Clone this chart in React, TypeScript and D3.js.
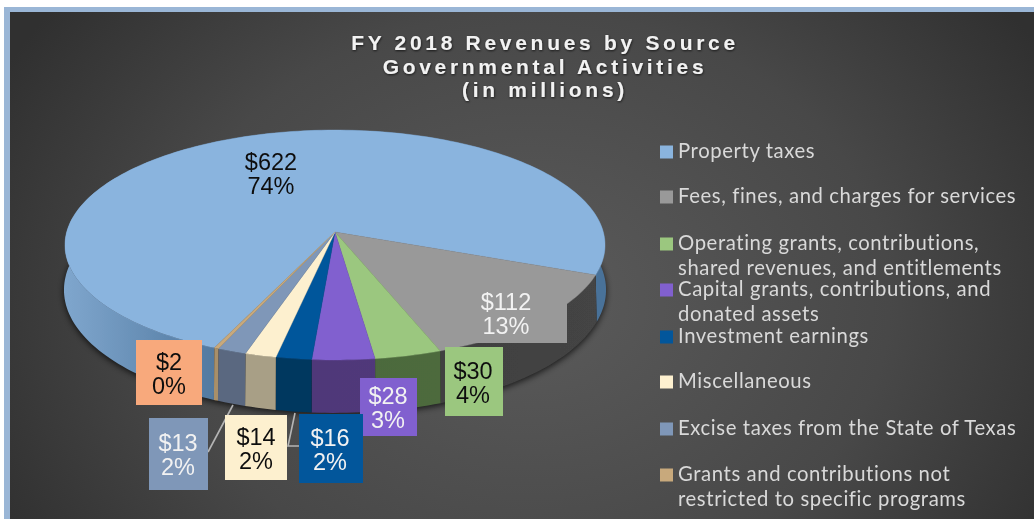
import React, { useEffect, useRef } from "react";
import * as d3 from "d3";

const titleLines = ["FY 2018 Revenues by Source", "Governmental Activities", "(in millions)"];
const legendLines = [
  ["Property taxes"],
  ["Fees, fines, and charges for services"],
  ["Operating grants, contributions,", "shared revenues, and entitlements"],
  ["Capital grants, contributions, and", "donated assets"],
  ["Investment earnings"],
  ["Miscellaneous"],
  ["Excise taxes from the State of Texas"],
  ["Grants and contributions not", "restricted to specific programs"]
];
const values = [622, 112, 30, 28, 16, 14, 13, 2];
const percents = ["74%", "13%", "4%", "3%", "2%", "2%", "2%", "0%"];
const topColors = ["#8ab4de", "#999999", "#9bc77f", "#8160cf", "#02569b", "#fdf0cf", "#7f97b8", "#c8a97c"];
const wallLeft = ["#7fa6cd", "#3a3a3a", "#4a6639", "#4f3678", "#03375f", "#a89f86", "#5a6880", "#a88f69"];
const wallRight = ["#4a7299", "#444444", "#4f6e40", "#523a7c", "#03375f", "#a89f86", "#5a6880", "#a88f69"];
const boxColors = ["#8ab4de", "#999999", "#9bc77f", "#8160cf", "#02569b", "#fdf0cf", "#7f97b8", "#f8a97c"];
const labelColors = ["#111", "#f2f2f2", "#111", "#f2f2f2", "#f2f2f2", "#111", "#f2f2f2", "#111"];
// label boxes: x0, x1, y0, y1
const labelBoxes = [
  [238, 305, 145, 200],
  [445, 567, 283, 343],
  [445, 503, 347, 416],
  [360, 417, 378, 436],
  [299, 363, 414, 483],
  [225, 287, 415, 480],
  [149, 208, 418, 490],
  [136, 202, 340, 405]
];
const labelCenters = [271, 506, 473, 388, 330, 256, 178, 169];
const legendRows = [152, 197, 244, 290, 337, 382, 429, 475];

const W = 1034;
const H = 519;
const persp = 0.1131;
// the grey slice starts here, at the right of the pie
const greyStart = (111.3 * Math.PI) / 180;
const startAngle = greyStart - (2 * Math.PI * values[0]) / d3.sum(values);

// tilted circle seen in perspective, top face and bottom of the wall
const rim = (cy: number, rx: number, ry: number) => (a: number) => {
  const u = Math.sin(a);
  const v = -Math.cos(a);
  const w = 1 - persp * v;
  return [335 + (rx * u) / w, cy + (ry * v) / w] as [number, number];
};
const topRim = rim(232, 268.3, 113.5);
const botRim = rim(276, 269.3, 121.4);

const sample = (a0: number, a1: number) =>
  d3.range(0, 1.0001, 1 / Math.max(4, Math.ceil(Math.abs(a1 - a0) * 40))).map(t => a0 + (a1 - a0) * t);

const drawChart = (node: SVGSVGElement) => {
  const svg = d3.select(node);
  svg.selectAll("*").remove();

  const defs = svg.append("defs");
  const bg = defs
    .append("radialGradient")
    .attr("id", "bg")
    .attr("gradientUnits", "userSpaceOnUse")
    .attr("cx", 530)
    .attr("cy", 300)
    .attr("r", 600)
    .attr("gradientTransform", "translate(530 300) scale(1 0.8) translate(-530 -300)");
  bg.append("stop").attr("offset", 0).attr("stop-color", "#5b5b5b");
  bg.append("stop").attr("offset", 0.6).attr("stop-color", "#484848");
  bg.append("stop").attr("offset", 1).attr("stop-color", "#303030");

  const soft = defs.append("filter").attr("id", "soft");
  soft.append("feGaussianBlur").attr("stdDeviation", 0.45);
  const shadow = defs
    .append("filter")
    .attr("id", "shadow")
    .attr("x", "-10%")
    .attr("y", "-10%")
    .attr("width", "120%")
    .attr("height", "120%");
  shadow.append("feGaussianBlur").attr("stdDeviation", 3);
  const titleGlow = defs.append("filter").attr("id", "titleGlow");
  titleGlow
    .append("feDropShadow")
    .attr("dx", 0.5)
    .attr("dy", 1)
    .attr("stdDeviation", 1)
    .attr("flood-color", "#000")
    .attr("flood-opacity", 0.7);

  values.forEach((_, i) => {
    const g = defs
      .append("linearGradient")
      .attr("id", `wall${i}`)
      .attr("gradientUnits", "userSpaceOnUse")
      .attr("x1", i === 0 ? 65 : 200)
      .attr("x2", i === 0 ? 240 : 600)
      .attr("y1", 0)
      .attr("y2", 0);
    g.append("stop").attr("offset", 0).attr("stop-color", wallLeft[i]);
    g.append("stop").attr("offset", 1).attr("stop-color", wallRight[i]);
  });

  svg.append("rect").attr("width", W).attr("height", H).attr("fill", "#fff");
  svg.append("rect").attr("x", 4).attr("y", 7).attr("width", W - 4).attr("height", H - 7).attr("fill", "#9ab6d6");
  svg.append("rect").attr("x", 10).attr("y", 12).attr("width", W - 10).attr("height", H - 12).attr("fill", "url(#bg)");

  const arcs = d3
    .pie<number>()
    .sort(null)
    .startAngle(startAngle)
    .endAngle(startAngle + 2 * Math.PI)(values);

  const line = d3.line();

  // shadow under the pie
  svg
    .append("path")
    .attr("d", line(sample(0, 2 * Math.PI).map(a => {
      const p = botRim(a);
      return [p[0], p[1] + 2] as [number, number];
    })) + "Z")
    .attr("fill", "#000")
    .attr("opacity", 0.7)
    .attr("filter", "url(#shadow)");

  // walls go first, the top face hides the back part of them
  const pie = svg.append("g").attr("filter", "url(#soft)");
  arcs.forEach((d, i) => {
    const angles = sample(d.startAngle, d.endAngle);
    const pts = [...angles.map(topRim), ...angles.slice().reverse().map(botRim)];
    pie.append("path").attr("d", line(pts) + "Z").attr("fill", `url(#wall${i})`);
  });
  arcs.forEach((d, i) => {
    const pts = [[335, 232] as [number, number], ...sample(d.startAngle, d.endAngle).map(topRim)];
    pie
      .append("path")
      .attr("d", line(pts) + "Z")
      .attr("fill", topColors[i])
      .attr("stroke", topColors[i])
      .attr("stroke-width", 0.4);
  });

  // leader lines
  const leaders = svg.append("g").attr("fill", "none").attr("stroke", "#b5b5b5").attr("stroke-width", 1.6);
  leaders.append("path").attr("d", d3.line()([[208, 452], [233, 405]]));
  leaders.append("path").attr("d", d3.line()([[295, 413], [288, 446], [299, 446]]));

  // data labels
  const labels = svg
    .append("g")
    .attr("font-family", "'Liberation Sans', Arial, sans-serif")
    .attr("font-size", 23.5)
    .attr("text-anchor", "middle");
  values.forEach((v, i) => {
    const [x0, x1, y0, y1] = labelBoxes[i];
    labels.append("rect").attr("x", x0).attr("y", y0).attr("width", x1 - x0).attr("height", y1 - y0).attr("fill", boxColors[i]);
    const mid = (y0 + y1) / 2;
    const t = labels.append("g").attr("fill", labelColors[i]).attr("filter", "url(#soft)");
    t.append("text").attr("x", labelCenters[i]).attr("y", mid - 3).text(`$${v}`);
    t.append("text").attr("x", labelCenters[i]).attr("y", mid + 21).text(percents[i]);
  });

  // legend
  const legend = svg
    .append("g")
    .attr("font-family", "Lato, 'Open Sans', sans-serif")
    .attr("font-size", 20.3)
    .attr("fill", "#d9d9d9")
    .attr("letter-spacing", 0.6);
  legendLines.forEach((rows, i) => {
    legend.append("rect").attr("x", 660).attr("y", legendRows[i] - 6.5).attr("width", 13).attr("height", 13).attr("fill", topColors[i]);
    rows.forEach((l, j) => {
      legend
        .append("text")
        .attr("x", 678)
        .attr("y", legendRows[i] + 6 + j * 24.5)
        .attr("filter", "url(#soft)")
        .text(l);
    });
  });

  // title
  const title = svg
    .append("g")
    .attr("font-family", "'Liberation Sans', Arial, sans-serif")
    .attr("font-weight", "bold")
    .attr("font-size", 21)
    .attr("letter-spacing", 3.7)
    .attr("fill", "#f2f2f2")
    .attr("text-anchor", "middle")
    .attr("filter", "url(#titleGlow)");
  titleLines.forEach((l, i) => {
    title.append("text").attr("x", 545).attr("y", 50 + i * 23.5).text(l);
  });
};

export default function App() {
  const ref = useRef<SVGSVGElement>(null);

  useEffect(() => {
    if (ref.current) drawChart(ref.current);
  }, []);

  return (
    <svg
      ref={ref}
      width={W}
      height={H}
      style={{ position: "absolute", left: 0, top: 0, display: "block" }}
    />
  );
}
